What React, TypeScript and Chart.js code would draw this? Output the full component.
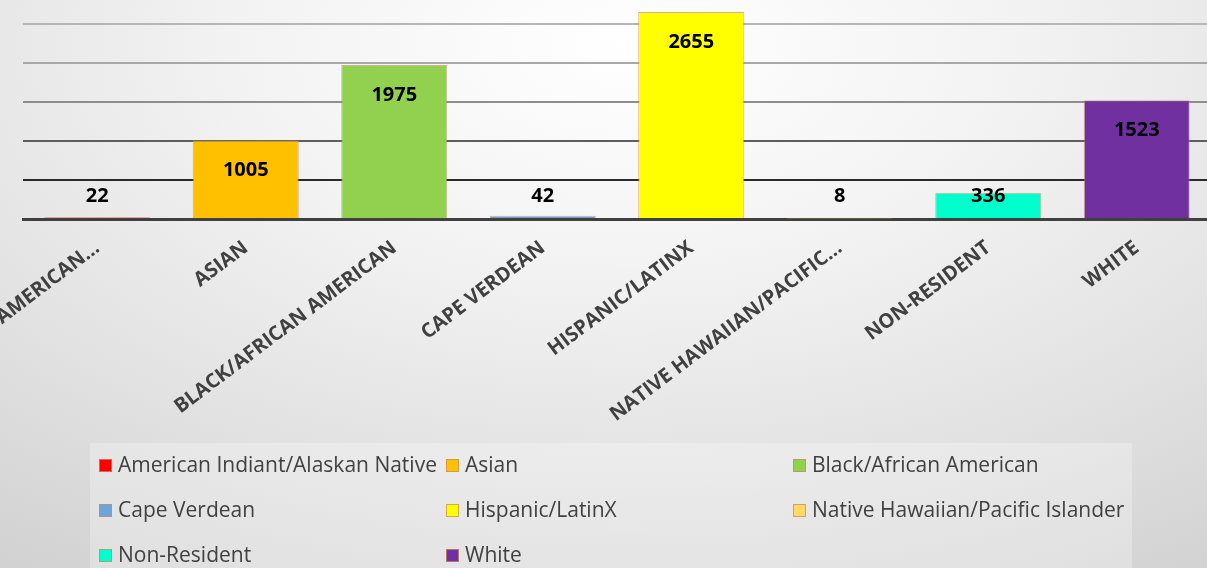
import React, { useEffect, useRef } from "react";
import { Chart, registerables } from "chart.js";

Chart.register(...registerables);

// ---- data ----
const categories = [
  "AMERICAN…",
  "ASIAN",
  "BLACK/AFRICAN AMERICAN",
  "CAPE VERDEAN",
  "HISPANIC/LATINX",
  "NATIVE HAWAIIAN/PACIFIC…",
  "NON-RESIDENT",
  "WHITE",
];
const legendNames = [
  "American Indiant/Alaskan Native",
  "Asian",
  "Black/African American",
  "Cape Verdean",
  "Hispanic/LatinX",
  "Native Hawaiian/Pacific Islander",
  "Non-Resident",
  "White",
];
const values = [22, 1005, 1975, 42, 2655, 8, 336, 1523];
const barColors = [
  "#FF0000",
  "#FFC000",
  "#92D050",
  "#6FA4DA",
  "#FFFF00",
  "#FFD966",
  "#00FFCC",
  "#7030A0",
];
const yMin = 0;
const yMax = 3000;
const yStep = 500;

// ---- style ----
const SHIFT = 20; // canvas is shifted up so the top of the plot is cut like the reference
const FONT = "'Open Sans', 'DejaVu Sans', sans-serif";
const gridColors: Record<number, string> = {
  500: "#2a2a2a",
  1000: "#5e5e5e",
  1500: "#8e8e8e",
  2000: "#a8a8a8",
  2500: "#b6b6b6",
};

const valueLabelPlugin = {
  id: "valueLabels",
  afterDatasetsDraw(chart: any) {
    const ctx = chart.ctx;
    const meta = chart.getDatasetMeta(0);
    ctx.save();
    ctx.font = `bold 20px ${FONT}`;
    ctx.fillStyle = "#000000";
    ctx.textAlign = "center";
    ctx.textBaseline = "middle";
    meta.data.forEach((el: any, i: number) => {
      const y = Math.min(el.y + 30, el.base - 22);
      ctx.fillText(String(values[i]), el.x, y);
    });
    ctx.restore();
  },
};

const legendPlugin = {
  id: "gridLegend",
  afterDraw(chart: any) {
    const ctx = chart.ctx;
    ctx.save();
    // legend box
    ctx.fillStyle = "rgba(255,255,255,0.28)";
    ctx.fillRect(90, 443 + SHIFT, 1042, 200);
    const colX = [99, 446, 793];
    const rowY = [465.5, 510.5, 555.5];
    ctx.font = `21px ${FONT}`;
    ctx.textBaseline = "middle";
    ctx.textAlign = "left";
    legendNames.forEach((name, i) => {
      const x = colX[i % 3];
      const y = rowY[Math.floor(i / 3)] + SHIFT;
      ctx.fillStyle = barColors[i];
      ctx.fillRect(x, y - 6.5, 13, 13);
      ctx.strokeStyle = "rgba(200,140,100,0.75)";
      ctx.lineWidth = 1;
      ctx.strokeRect(x + 0.5, y - 6, 12, 12);
      ctx.fillStyle = "#404040";
      ctx.fillText(name, x + 19, y + 1);
    });
    ctx.restore();
  },
};

export default function App() {
  const ref = useRef<HTMLCanvasElement>(null);

  useEffect(() => {
    if (!ref.current) return;
    const chart = new Chart(ref.current, {
      type: "bar",
      data: {
        labels: categories,
        datasets: [
          {
            data: values,
            backgroundColor: barColors,
            borderColor: "rgba(205,145,100,0.7)",
            borderWidth: 1,
            barPercentage: 0.714,
            categoryPercentage: 1,
          },
        ],
      },
      options: {
        animation: false,
        responsive: false,
        maintainAspectRatio: false,
        layout: { padding: { left: 23, right: 4, top: 5, bottom: 99 } },
        plugins: {
          legend: { display: false },
          tooltip: { enabled: false },
        },
        scales: {
          x: {
            z: 1,
            grid: { display: false, drawTicks: false },
            border: { display: true, color: "#404040", width: 3 },
            ticks: {
              autoSkip: false,
              maxRotation: 37,
              minRotation: 37,
              padding: 17,
              color: "#404040",
              font: { family: FONT, size: 20, weight: "bold" },
            },
            afterFit: (s: any) => {
              s.height = 250;
              s.paddingLeft = 0;
              s.paddingRight = 0;
            },
          },
          y: {
            min: yMin,
            max: yMax,
            ticks: { display: false, stepSize: yStep },
            border: { display: false },
            grid: {
              drawTicks: false,
              lineWidth: 2,
              color: (c: any) => gridColors[c.tick?.value] || "transparent",
            },
            afterFit: (s: any) => {
              s.width = 0;
            },
          },
        },
      },
      plugins: [valueLabelPlugin, legendPlugin],
    });
    return () => chart.destroy();
  }, []);

  return (
    <div
      style={{
        position: "fixed",
        left: 0,
        top: 0,
        width: 1207,
        height: 568,
        overflow: "hidden",
        background:
          "radial-gradient(ellipse 90% 110% at 52% 8%, #ffffff 0%, #f3f3f3 35%, #e2e2e2 70%, #d2d2d2 100%)",
      }}
    >
      <div style={{ position: "absolute", left: 0, top: -SHIFT, width: 1215, height: 588 }}>
        <canvas ref={ref} width={1215} height={588} style={{ width: 1215, height: 588 }} />
      </div>
    </div>
  );
}
